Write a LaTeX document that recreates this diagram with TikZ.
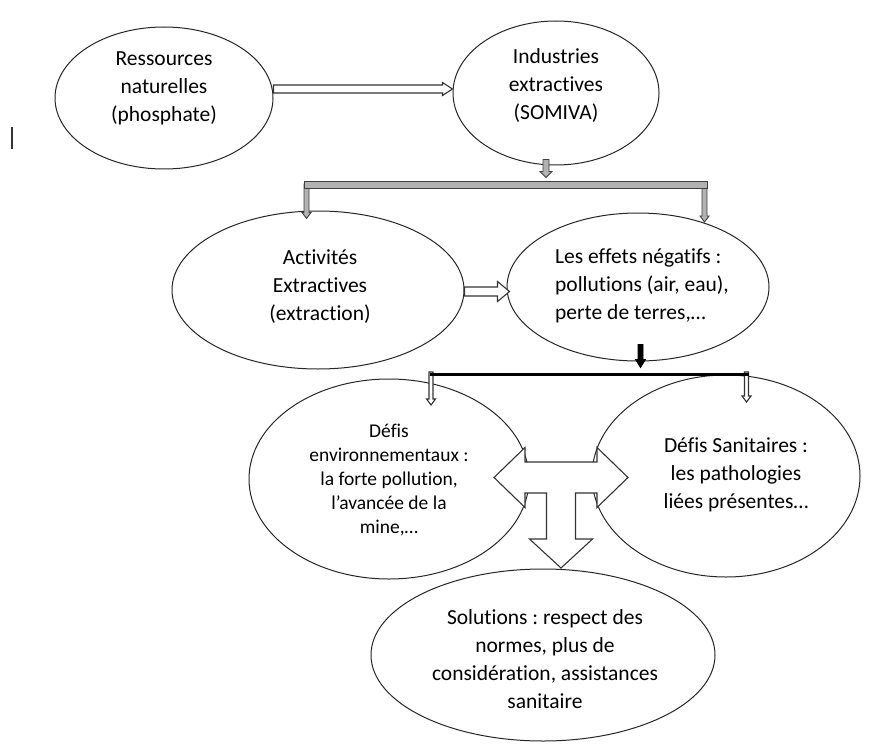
\documentclass[tikz,border=0pt]{standalone}
\usepackage{fontspec}
\setmainfont{Carlito}[Ligatures=NoCommon]
\frenchspacing
\usetikzlibrary{shapes.geometric,calc}
\tikzset{
  oval/.style={ellipse, draw=black!85, line width=1pt, inner sep=0pt},
  txt/.style={align=center, font=\fontsize{21.5}{28}\selectfont\frenchspacing, inner sep=0pt},
  txtsmall/.style={align=center, font=\fontsize{19.5}{24}\selectfont\frenchspacing, inner sep=0pt},
  hollow/.style={draw=black!80, line width=1.1pt, fill=white, line join=miter},
  greyarrow/.style={draw=black!75, line width=0.9pt, fill=black!30},
  blackarrow/.style={draw=black, line width=0.8pt, fill=black},
  barline/.style={draw=black, line width=3pt},
  cursor/.style={draw=black!80, line width=1.8pt},
}
% horizontal block arrow: style, from, to, shaft half width, head half width, head length
\newcommand\mkharrow[6]{\path[#1] let \p1=(#2), \p2=(#3) in
  (\x1,\y1+#4) -- (\x2-#6,\y1+#4) -- (\x2-#6,\y1+#5) -- (\x2,\y1) --
  (\x2-#6,\y1-#5) -- (\x2-#6,\y1-#4) -- (\x1,\y1-#4) -- cycle;}
% vertical (downward) block arrow
\newcommand\mkvarrow[6]{\path[#1] let \p1=(#2), \p2=(#3) in
  (\x1-#4,\y1) -- (\x1-#4,\y2+#6) -- (\x1-#5,\y2+#6) -- (\x1,\y2) --
  (\x1+#5,\y2+#6) -- (\x1+#4,\y2+#6) -- (\x1+#4,\y1) -- cycle;}
\begin{document}
\begin{tikzpicture}[x=1pt,y=-1pt]
\path[use as bounding box] (0,0) rectangle (877,746);

% ellipses
\node[oval, minimum width=218pt, minimum height=142pt] (R) at (164,98) {};
\node[oval, minimum width=206pt, minimum height=144pt] (I) at (556,93) {};
\node[oval, minimum width=292pt, minimum height=158pt] (A) at (318,290) {};
\node[oval, minimum width=262pt, minimum height=148pt] (E) at (638,287) {};
\node[oval, minimum width=280pt, minimum height=200pt] (D) at (389,479) {};
\node[oval, minimum width=268pt, minimum height=202pt] (S) at (726,476) {};
\node[oval, minimum width=344pt, minimum height=172pt] (O) at (543,655) {};

% texts
\node[txt] (Rt) at (164,88) {Ressources\\naturelles\\(phosphate)};
\node[txt] (It) at (556,86) {Industries\\extractives\\(SOMIVA)};
\node[txt] (At) at (320,287) {Activités\\Extractives\\(extraction)};
\node[txt, align=left] (Et) at (642,286) {Les effets négatifs :\\pollutions (air, eau),\\perte de terres,…};
\node[txtsmall] (Dt) at (389,480) {Défis\\environnementaux :\\la forte pollution,\\l’avancée de la\\mine,…};
\node[txt] (St) at (736,475) {Défis Sanitaires :\\les pathologies\\liées présentes…};
\node[txt] (Ot) at (545,659) {Solutions : respect des\\normes, plus de\\considération, assistances\\sanitaire};

% R -> I
\coordinate (a1s) at ([yshift=9pt]R.east);
\coordinate (a1e) at (I.west |- a1s);
\mkharrow{hollow}{a1s}{a1e}{4pt}{6.5pt}{10pt}

% I -> bracket 1
\coordinate (b1s) at ([xshift=-10pt,yshift=6pt]I.south);
\coordinate (b1e) at ([xshift=-10pt,yshift=-12pt]I.south);
\mkvarrow{greyarrow}{b1s}{b1e}{3pt}{6pt}{6pt}
\coordinate (p1s) at (306.5,184);
\coordinate (p1e) at (A.north -| p1s);
\coordinate (p1t) at ([yshift=-8pt]p1e);
\mkvarrow{greyarrow}{p1s}{p1t}{2.5pt}{4.5pt}{6pt}
\coordinate (p2s) at (704.5,186);
\coordinate (p2t) at (704.5,222);
\mkvarrow{greyarrow}{p2s}{p2t}{2.5pt}{4.5pt}{6pt}
\coordinate (bar1L) at (304,181);
\coordinate (bar1R) at (707,188);
\path[greyarrow] (bar1L) rectangle (bar1R);

% A -> E
\coordinate (a2s) at (A.east |- 0,291.5);
\coordinate (a2e) at ([xshift=3pt]E.west |- a2s);
\mkharrow{hollow}{a2s}{a2e}{4.5pt}{10pt}{12pt}

% E -> bracket 2
\coordinate (b2s) at ([xshift=2.5pt,yshift=17pt]E.south);
\coordinate (b2e) at ([xshift=2.5pt,yshift=-6pt]E.south);
\mkvarrow{blackarrow}{b2s}{b2e}{2.5pt}{5pt}{8pt}
\coordinate (q1s) at (431,372);
\coordinate (q1t) at (431,405);
\mkvarrow{hollow}{q1s}{q1t}{2pt}{4.5pt}{6pt}
\coordinate (q2s) at (746.5,372);
\coordinate (q2t) at (746.5,402);
\mkvarrow{hollow}{q2s}{q2t}{2pt}{4.5pt}{6pt}
\coordinate (bar2L) at (430,374);
\coordinate (bar2R) at (749,374);
\draw[barline] (bar2L) -- (bar2R);

% T-shaped left-right-down arrow
\coordinate (T) at (561,477.5);
\draw[hollow] ([shift={(-67,0)}]T) -- ([shift={(-36,-30)}]T) -- ([shift={(-36,-15.5)}]T)
  -- ([shift={(36,-15.5)}]T) -- ([shift={(36,-30)}]T) -- ([shift={(67,0)}]T)
  -- ([shift={(36,30)}]T) -- ([shift={(36,15.5)}]T) -- ([shift={(14.5,15.5)}]T)
  -- ([shift={(14.5,61.5)}]T) -- ([shift={(31.5,61.5)}]T) -- ([shift={(0,90.5)}]T)
  -- ([shift={(-31.5,61.5)}]T) -- ([shift={(-14.5,61.5)}]T) -- ([shift={(-14.5,15.5)}]T)
  -- ([shift={(-36,15.5)}]T) -- ([shift={(-36,30)}]T) -- cycle;

% cursor mark
\coordinate (c1) at (12,127);
\coordinate (c2) at (12,149);
\draw[cursor] (c1) -- (c2);
\end{tikzpicture}
\end{document}
